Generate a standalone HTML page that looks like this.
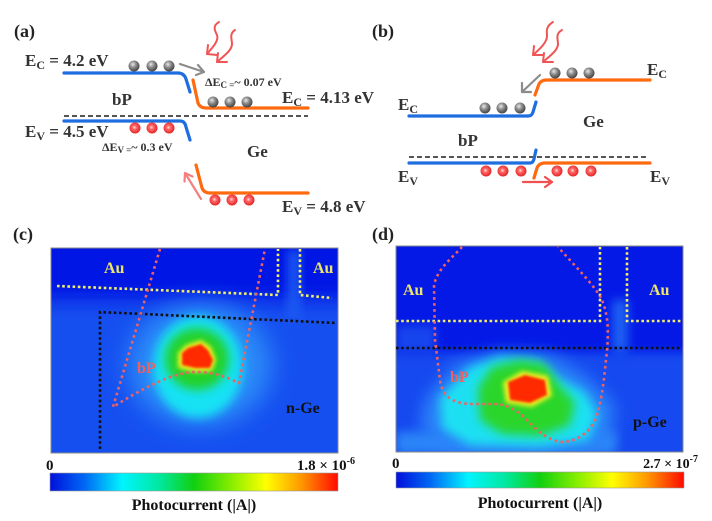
<!DOCTYPE html>
<html><head><meta charset="utf-8">
<style>
html,body{margin:0;padding:0;background:#fff;}
svg{display:block;}
text{font-family:"Liberation Serif",serif;font-weight:bold;}
</style></head><body>
<svg width="712" height="521" viewBox="0 0 712 521" xmlns="http://www.w3.org/2000/svg">
<defs>
 <radialGradient id="gb" cx="40%" cy="35%" r="65%"><stop offset="0" stop-color="#e8e8e8"/><stop offset="0.45" stop-color="#8c8c8c"/><stop offset="1" stop-color="#444"/></radialGradient>
 <radialGradient id="rb" cx="45%" cy="45%" r="60%"><stop offset="0" stop-color="#ffe4e4"/><stop offset="0.3" stop-color="#ff6a6a"/><stop offset="1" stop-color="#e01a1a"/></radialGradient>
 <linearGradient id="cbar" x1="0" x2="1" y1="0" y2="0">
  <stop offset="0" stop-color="#0010dc"/>
  <stop offset="0.12" stop-color="#0068f4"/>
  <stop offset="0.25" stop-color="#00f4ff"/>
  <stop offset="0.38" stop-color="#00e8a0"/>
  <stop offset="0.5" stop-color="#10d010"/>
  <stop offset="0.63" stop-color="#88ee00"/>
  <stop offset="0.75" stop-color="#ffff00"/>
  <stop offset="0.87" stop-color="#ff9a00"/>
  <stop offset="1" stop-color="#ff0a00"/>
 </linearGradient>
 <filter id="b1" x="-50%" y="-50%" width="200%" height="200%"><feGaussianBlur stdDeviation="1.2"/></filter>
 <filter id="b2" x="-50%" y="-50%" width="200%" height="200%"><feGaussianBlur stdDeviation="2.5"/></filter>
 <filter id="b5" x="-50%" y="-50%" width="200%" height="200%"><feGaussianBlur stdDeviation="5"/></filter>
 <filter id="b8" x="-50%" y="-50%" width="200%" height="200%"><feGaussianBlur stdDeviation="8"/></filter>
 <filter id="b12" x="-50%" y="-50%" width="200%" height="200%"><feGaussianBlur stdDeviation="12"/></filter>
 <clipPath id="cc"><rect x="51" y="248" width="287" height="205"/></clipPath>
 <clipPath id="cd"><rect x="396" y="246" width="287" height="206"/></clipPath>
</defs>

<!-- ============ (a) ============ -->
<text x="14" y="37" font-size="18" fill="#222">(a)</text>
<g fill="none" stroke-linecap="round" stroke-linejoin="round">
 <!-- wavy arrows -->
 <g id="waves" stroke="#f05555" stroke-width="2">
  <path d="M219,22 C212,26 215,31 217,35 C219,40 214,46 207,54"/>
  <path d="M208,45 L207,54 L217,55"/>
  <path d="M235,30 C229,34 232,39 232,44 C232,50 225,55 217,62"/>
  <path d="M218,53 L217,62 L227,62"/>
 </g>
 <path d="M64,73 H178 Q184,73 186,79 L190,92" stroke="#1e6ee0" stroke-width="3.2"/>
 <path d="M193,80 L198,103 Q200,108 206,108 H308" stroke="#ff6a10" stroke-width="3.2"/>
 <path d="M64,116 H308" stroke="#555" stroke-width="2" stroke-dasharray="5 3" stroke-linecap="butt"/>
 <path d="M64,121 H180 Q185,121 186,127 L190,140" stroke="#1e6ee0" stroke-width="3.2"/>
 <path d="M196,165 L202,188 Q204,193 210,193 H308" stroke="#ff6a10" stroke-width="3.2"/>
 <!-- gray arrow -->
 <path d="M180,64 L204,72 M198,65 L204,72 L196,75" stroke="#8c8c8c" stroke-width="2.2"/>
 <!-- pink arrow -->
 <path d="M201,199 L185,173 M184.5,181.5 L185,173 L192.5,176.5" stroke="#f28080" stroke-width="2.2"/>
</g>
<g fill="url(#gb)">
 <circle cx="134" cy="66" r="5.5"/><circle cx="152" cy="66" r="5.5"/><circle cx="169" cy="66" r="5.5"/>
 <circle cx="213" cy="102" r="5.5"/><circle cx="230" cy="102" r="5.5"/><circle cx="247" cy="102" r="5.5"/>
</g>
<g fill="url(#rb)">
 <circle cx="135" cy="128" r="5.5"/><circle cx="152" cy="128" r="5.5"/><circle cx="169" cy="128" r="5.5"/>
 <circle cx="215" cy="200" r="5.5"/><circle cx="232" cy="200" r="5.5"/><circle cx="249" cy="200" r="5.5"/>
</g>
<g fill="#333" font-size="17">
 <text x="25" y="66">E<tspan font-size="12" dy="3">C</tspan><tspan dy="-3"> = 4.2 eV</tspan></text>
 <text x="282" y="103">E<tspan font-size="12" dy="3">C</tspan><tspan dy="-3"> = 4.13 eV</tspan></text>
 <text x="112" y="105">bP</text>
 <text x="25" y="137">E<tspan font-size="12" dy="3">V</tspan><tspan dy="-3"> = 4.5 eV</tspan></text>
 <text x="247" y="157">Ge</text>
 <text x="282" y="212">E<tspan font-size="12" dy="3">V</tspan><tspan dy="-3"> = 4.8 eV</tspan></text>
 <text x="205" y="86" font-size="12">ΔE<tspan font-size="9" dy="2">C =</tspan><tspan dy="-2">~ 0.07 eV</tspan></text>
 <text x="102" y="151" font-size="12">ΔE<tspan font-size="9" dy="2">V =</tspan><tspan dy="-2">~ 0.3 eV</tspan></text>
</g>

<!-- ============ (b) ============ -->
<text x="372" y="37" font-size="18" fill="#222">(b)</text>
<g fill="none" stroke-linecap="round" stroke-linejoin="round">
 <g stroke="#f05555" stroke-width="2" transform="translate(327,0)">
  <path d="M226,22 C218,27 220,32 220,36 C220,42 214,48 206,55"/>
  <path d="M207,46 L206,55 L216,55"/>
  <path d="M235,30 C228,34 231,39 231,44 C231,50 224,55 216,62"/>
  <path d="M217,53 L216,62 L226,62"/>
 </g>
 <path d="M535,95 L539,84 Q541,80 547,80 H650" stroke="#ff6a10" stroke-width="3.2"/>
 <path d="M409,116 H528 Q532,116 533,112 L536,102" stroke="#1e6ee0" stroke-width="3.2"/>
 <path d="M409,157 H648" stroke="#555" stroke-width="2" stroke-dasharray="5 3" stroke-linecap="butt"/>
 <path d="M409,163 H530 Q533,163 534,159 L536,150" stroke="#1e6ee0" stroke-width="3.2"/>
 <path d="M534,178 L537,168 Q539,163 545,163 H650" stroke="#ff6a10" stroke-width="3.2"/>
 <path d="M540,75 L522,92 M522,83 L522,92 L531,92" stroke="#8c8c8c" stroke-width="2.2"/>
 <path d="M523,182 L552,182 M545,177 L552,182 L545,187" stroke="#f05050" stroke-width="2.2"/>
</g>
<g fill="url(#gb)">
 <circle cx="555" cy="73" r="5.5"/><circle cx="572" cy="73" r="5.5"/><circle cx="589" cy="73" r="5.5"/>
 <circle cx="485" cy="108" r="5.5"/><circle cx="502" cy="108" r="5.5"/><circle cx="520" cy="108" r="5.5"/>
</g>
<g fill="url(#rb)">
 <circle cx="486" cy="171" r="5.5"/><circle cx="503" cy="171" r="5.5"/><circle cx="521" cy="171" r="5.5"/>
 <circle cx="557" cy="171" r="5.5"/><circle cx="573" cy="171" r="5.5"/><circle cx="591" cy="171" r="5.5"/>
</g>
<g fill="#333" font-size="17">
 <text x="647" y="75">E<tspan font-size="12" dy="3">C</tspan></text>
 <text x="398" y="110">E<tspan font-size="12" dy="3">C</tspan></text>
 <text x="583" y="127">Ge</text>
 <text x="458" y="146">bP</text>
 <text x="398" y="182">E<tspan font-size="12" dy="3">V</tspan></text>
 <text x="650" y="182">E<tspan font-size="12" dy="3">V</tspan></text>
</g>

<!-- ============ (c) ============ -->
<text x="13" y="240" font-size="18" fill="#222">(c)</text>
<g clip-path="url(#cc)">
 <rect x="51" y="248" width="287" height="205" fill="#0a2ce8"/>
 <rect x="30" y="305" width="330" height="170" fill="#1650f0" filter="url(#b8)"/>
 <rect x="30" y="230" width="330" height="62" fill="#0418e4" filter="url(#b5)"/>
 <rect x="288" y="250" width="12" height="70" fill="#1a5cf2" filter="url(#b5)"/>
 <ellipse cx="200" cy="365" rx="72" ry="62" fill="#2a8af8" filter="url(#b12)"/>
 <ellipse cx="198" cy="367" rx="45" ry="51" fill="#18e2f4" filter="url(#b5)"/>
 <ellipse cx="197" cy="359" rx="32" ry="31" fill="#22d22a" filter="url(#b5)"/>
 <polygon points="178,353 186,345 201,340 211,347 216,360 212,371 195,372 178,368" fill="#f4f020" filter="url(#b2)"/>
 <polygon points="182,353 188,348 201,344 208,350 213,360 210,368 195,368 182,365" fill="#ff2a00" filter="url(#b1)"/>
</g>
<rect x="51" y="248" width="287" height="205" fill="none" stroke="#8a8a8a" stroke-width="1"/>
<g fill="none" stroke-width="2.6">
 <path d="M57,286 L278,295 L278,249 M300,249 L300,295 L332,298" stroke="#f2ee6a" stroke-dasharray="2.6 2.6"/>
 <path d="M100,449 L100,312 L337,323" stroke="#111" stroke-dasharray="2.6 2.6"/>
 <path d="M160,249 L113,407 C140,390 175,370 200,372 C220,373 232,380 239,383 L265,249" stroke="#f06262" stroke-dasharray="2.6 3.4"/>
</g>
<text x="104" y="273" font-size="16" fill="#ece66a">Au</text>
<text x="313" y="273" font-size="16" fill="#ece66a">Au</text>
<text x="137" y="373" font-size="16" fill="#f06060">bP</text>
<text x="286" y="413" font-size="16" fill="#111">n-Ge</text>
<rect x="50" y="473" width="288" height="18" fill="url(#cbar)" stroke="#999" stroke-width="0.6"/>
<text x="46" y="470" font-size="15" fill="#111">0</text>
<text x="355" y="470" font-size="15" fill="#111" text-anchor="end">1.8 × 10<tspan font-size="10" dy="-6">-6</tspan></text>
<text x="194" y="510" font-size="16" fill="#111" text-anchor="middle">Photocurrent (|A|)</text>

<!-- ============ (d) ============ -->
<text x="372" y="240" font-size="18" fill="#222">(d)</text>
<g clip-path="url(#cd)">
 <rect x="396" y="246" width="287" height="206" fill="#0418e6"/>
 <rect x="380" y="352" width="320" height="120" fill="#1448ef" filter="url(#b5)"/>
 <rect x="396" y="325" width="40" height="28" fill="#1244ee" filter="url(#b5)"/>
 <rect x="612" y="300" width="16" height="52" fill="#1e62f2" filter="url(#b5)"/>
 <rect x="396" y="432" width="220" height="22" fill="#2c86f8" filter="url(#b5)"/>
 <polygon points="425,400 455,365 500,352 550,355 585,375 615,405 610,445 560,452 450,450 420,430" fill="#2a84f8" filter="url(#b8)"/>
 <polygon points="440,398 470,367 500,357 538,360 558,378 585,392 598,415 588,440 540,447 470,445 442,428" fill="#1ee0f2" filter="url(#b5)"/>
 <polygon points="478,388 492,367 520,360 545,364 560,386 575,402 570,425 540,436 502,434 480,420" fill="#2ad62a" filter="url(#b5)"/>
 <polygon points="503,382 522,371 548,376 552,396 532,407 506,403" fill="#f2f020" filter="url(#b2)"/>
 <polygon points="508,382 525,375 545,380 547,395 530,403 510,400" fill="#ff2a00" filter="url(#b1)"/>
</g>
<rect x="396" y="246" width="287" height="206" fill="none" stroke="#8a8a8a" stroke-width="1"/>
<g fill="none" stroke-width="2.6">
 <path d="M396,321 L600,321 L600,247 M627,247 L627,321 L683,321" stroke="#f2ee6a" stroke-dasharray="2.6 2.6"/>
 <path d="M396,348 L680,348" stroke="#111" stroke-dasharray="2.6 2.6"/>
 <path d="M462,247 C452,258 438,268 434,285 L435,340 L440,380 C442,396 452,403 470,404 L497,404 C515,406 525,418 537,430 C547,438 556,442 563,442 C578,441 590,432 596,418 C601,402 603,390 606,360 C609,335 609,315 601,298 C594,285 575,266 558,247" stroke="#f06262" stroke-dasharray="2.6 3.4"/>
</g>
<text x="403" y="295" font-size="16" fill="#ece66a">Au</text>
<text x="649" y="295" font-size="16" fill="#ece66a">Au</text>
<text x="450" y="382" font-size="16" fill="#f06060">bP</text>
<text x="633" y="427" font-size="16" fill="#111">p-Ge</text>
<rect x="396" y="472" width="288" height="16" fill="url(#cbar)" stroke="#999" stroke-width="0.6"/>
<text x="392" y="468" font-size="15" fill="#111">0</text>
<text x="698" y="468" font-size="14" fill="#111" text-anchor="end">2.7 × 10<tspan font-size="10" dy="-6">-7</tspan></text>
<text x="540" y="508" font-size="16" fill="#111" text-anchor="middle">Photocurrent (|A|)</text>
</svg>
</body></html>
